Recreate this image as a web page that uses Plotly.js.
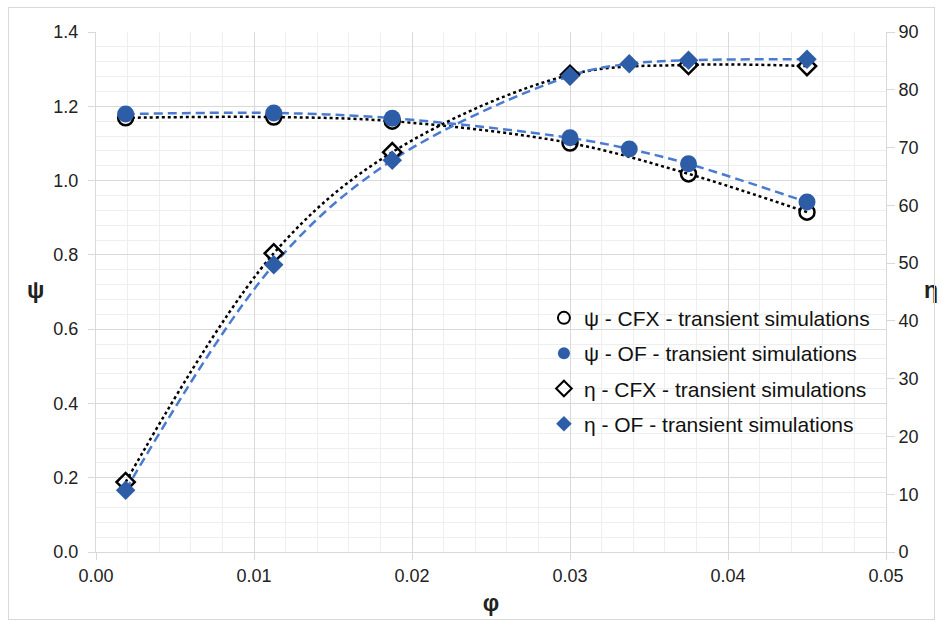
<!DOCTYPE html>
<html>
<head>
<meta charset="utf-8">
<script src="https://cdn.plot.ly/plotly-3.0.1.min.js"></script>
<style>
html,body{margin:0;padding:0;background:#fff;}
#chart{position:absolute;left:0;top:0;width:942px;height:622px;}
#frame{position:absolute;left:8px;top:7px;width:925px;height:611px;border:1px solid #d9d9d9;pointer-events:none;}
</style>
</head>
<body>
<div id="chart"></div>
<div id="frame"></div>
<script>
// Data
const phi = [0.001875, 0.01125, 0.01875, 0.03, 0.03375, 0.0375, 0.045];
const psiCFX = [1.169, 1.171, 1.160, 1.101, null, 1.018, 0.915];
const psiOF  = [1.179, 1.182, 1.168, 1.115, 1.085, 1.045, 0.942];
const etaCFX = [12.1, 51.7, 69.2, 82.6, null, 84.3, 84.1];
const etaOF  = [10.7, 49.7, 67.8, 82.4, 84.5, 85.1, 85.3];

const xTicks = [0, 0.01, 0.02, 0.03, 0.04, 0.05];
const xTickText = ['0.00', '0.01', '0.02', '0.03', '0.04', '0.05'];
const yTicks = [0, 0.2, 0.4, 0.6, 0.8, 1.0, 1.2, 1.4];
const yTickText = ['0.0', '0.2', '0.4', '0.6', '0.8', '1.0', '1.2', '1.4'];
const y2Ticks = [0, 10, 20, 30, 40, 50, 60, 70, 80, 90];

const names = ['ψ - CFX - transient simulations', 'ψ - OF - transient simulations',
               'η - CFX - transient simulations', 'η - OF - transient simulations'];

const BLUE_M = '#2e5da8';
const BLUE_L = '#4a7bd0';
const FONT = 'Liberation Sans, Arial, sans-serif';

const traces = [
  {x: phi, y: psiCFX, mode: 'lines', line: {color: '#000', width: 2.5, dash: 'dot', shape: 'spline', smoothing: 1}, connectgaps: true, showlegend: false, hoverinfo: 'skip'},
  {x: phi, y: psiOF, mode: 'lines', line: {color: BLUE_L, width: 2.5, dash: '9px,5px', shape: 'spline', smoothing: 1}, showlegend: false, hoverinfo: 'skip'},
  {x: phi, y: psiCFX, name: names[0], mode: 'markers', legendrank: 1, legendgroup: 'a',
   marker: {symbol: 'circle-open', size: 15, color: '#000', line: {width: 2.5, color: '#000'}}},
  {x: phi, y: psiOF, name: names[1], mode: 'markers', legendrank: 2, legendgroup: 'b',
   marker: {symbol: 'circle', size: 17, color: BLUE_M}},
  {x: phi, y: etaCFX, yaxis: 'y2', mode: 'lines', line: {color: '#000', width: 2.5, dash: 'dot', shape: 'spline', smoothing: 1}, connectgaps: true, showlegend: false, hoverinfo: 'skip'},
  {x: phi, y: etaOF, yaxis: 'y2', mode: 'lines', line: {color: BLUE_L, width: 2.5, dash: '9px,5px', shape: 'spline', smoothing: 1}, showlegend: false, hoverinfo: 'skip'},
  {x: phi, y: etaCFX, yaxis: 'y2', name: names[2], mode: 'markers', legendrank: 3, legendgroup: 'c',
   marker: {symbol: 'diamond-open', size: 14, color: '#000', line: {width: 2.5, color: '#000'}}},
  {x: phi, y: etaOF, yaxis: 'y2', name: names[3], mode: 'markers', legendrank: 4, legendgroup: 'd',
   marker: {symbol: 'diamond', size: 15, color: BLUE_M}}
];

const layout = {
  width: 942, height: 622,
  margin: {l: 96, r: 56, t: 32, b: 70},
  paper_bgcolor: '#fff', plot_bgcolor: '#fff',
  font: {family: FONT, color: '#222', size: 18},
  showlegend: true,
  legend: {x: 0.567, y: 0.489, xanchor: 'left', yanchor: 'top', bgcolor: 'rgba(255,255,255,0)',
           font: {family: FONT, size: 21, color: '#111'}, traceorder: 'grouped', tracegroupgap: 5,
           itemwidth: 30, itemsizing: 'constant'},
  annotations: [
    {text: '<b>ψ</b>', xref: 'paper', yref: 'paper', x: -0.077, y: 0.504, showarrow: false,
     xanchor: 'center', yanchor: 'middle', font: {family: FONT, size: 23, color: '#222'}},
    {text: '<b>η</b>', xref: 'paper', yref: 'paper', x: 1.057, y: 0.504, showarrow: false,
     xanchor: 'center', yanchor: 'middle', font: {family: FONT, size: 23, color: '#222'}}
  ],
  xaxis: {
    range: [0, 0.05], tickvals: xTicks, ticktext: xTickText,
    showgrid: true, gridcolor: '#d9d9d9', gridwidth: 1,
    minor: {dtick: 0.002, showgrid: true, gridcolor: '#eeeeee', gridwidth: 1},
    ticks: 'outside', ticklen: 7, tickcolor: '#d9d9d9',
    zeroline: false, showline: true, linecolor: '#d9d9d9', linewidth: 1,
    tickfont: {family: FONT, size: 18, color: '#222'},
    title: {text: '<b>φ</b>', font: {family: FONT, size: 23, color: '#222'}, standoff: 10}
  },
  yaxis: {
    range: [0, 1.4], tickvals: yTicks, ticktext: yTickText,
    showgrid: true, gridcolor: '#d9d9d9', gridwidth: 1,
    minor: {dtick: 0.04, showgrid: true, gridcolor: '#eeeeee', gridwidth: 1},
    ticks: 'outside', ticklen: 7, tickcolor: '#d9d9d9', ticklabelstandoff: 6,
    zeroline: false, showline: true, linecolor: '#d9d9d9', linewidth: 1,
    tickfont: {family: FONT, size: 18, color: '#222'}
  },
  yaxis2: {
    range: [0, 90], tickvals: y2Ticks, overlaying: 'y', side: 'right',
    showgrid: false, ticks: 'outside', ticklen: 8, tickcolor: '#d9d9d9',
    zeroline: false, showline: true, linecolor: '#d9d9d9', linewidth: 1,
    tickfont: {family: FONT, size: 18, color: '#222'}
  }
};

Plotly.newPlot('chart', traces, layout, {displayModeBar: false, staticPlot: true});
</script>
</body>
</html>
